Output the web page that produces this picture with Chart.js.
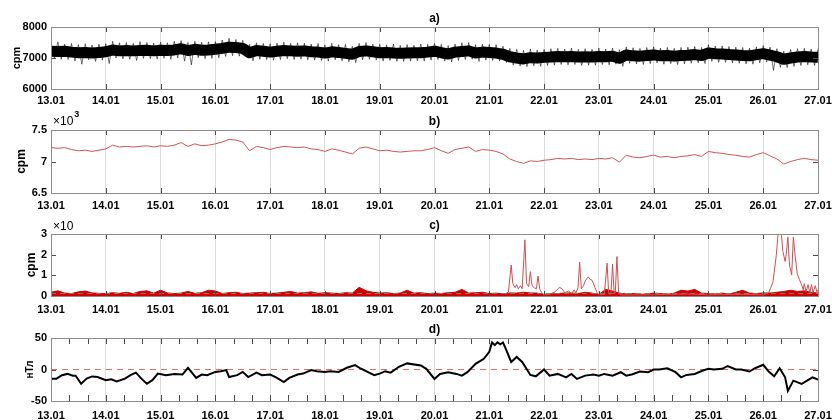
<!DOCTYPE html>
<html><head><meta charset="utf-8">
<script src="https://cdn.jsdelivr.net/npm/chart.js@4.4.1/dist/chart.umd.min.js"></script>
<style>
html,body{margin:0;padding:0;background:#fff;}
#wrap{position:relative;width:832px;height:420px;overflow:hidden;}
canvas{position:absolute;left:0;}
</style></head><body>
<div id="wrap">
<canvas id="pa" width="832" height="105" style="top:0px"></canvas>
<canvas id="pb" width="832" height="105" style="top:105px"></canvas>
<canvas id="pc" width="832" height="105" style="top:210px"></canvas>
<canvas id="pd" width="832" height="105" style="top:315px"></canvas>
</div>
<script>
// ---------- DATA ----------
const START_DAY = 13;
const SAMPLES_PER_DAY = 8;
const xTickLabels = ['13.01','14.01','15.01','16.01','17.01','18.01','19.01','20.01','21.01','22.01','23.01','24.01','25.01','26.01','27.01'];
const aYTicks = [6000, 7000, 8000];
const bYTicks = [6.5, 7, 7.5];
const cYTicks = [0, 1, 2, 3];
const dYTicks = [-50, 0, 50];

// a) raw count rate: upper / lower excursions of the noisy record (cpm), 8 samples per day
const aUpper = [7480,7520,7450,7470,7430,7460,7420,7450,
 7460,7540,7490,7500,7470,7530,7500,7480,
 7510,7490,7540,7560,7500,7540,7510,7520,
 7530,7580,7640,7600,7570,7440,7490,7470,
 7460,7480,7510,7470,7490,7480,7450,7470,
 7420,7470,7430,7440,7380,7470,7500,7450,
 7440,7420,7450,7410,7430,7410,7450,7440,
 7470,7440,7400,7450,7490,7500,7430,7450,
 7440,7430,7380,7310,7280,7250,7290,7260,
 7280,7300,7310,7290,7320,7280,7300,7280,
 7320,7290,7320,7270,7360,7330,7310,7340,
 7360,7320,7340,7310,7340,7350,7370,7340,
 7430,7390,7390,7370,7350,7340,7320,7360,
 7400,7350,7300,7220,7280,7300,7310,7290,
 7300];
const aLower = [6980,6960,6950,6900,6800,6940,6890,6930,
 6820,7000,6970,6960,6920,6990,6980,6970,
 6990,6960,7000,6900,6780,7010,6980,6990,
 7010,7050,7080,7060,7040,6910,6960,6950,
 6930,6950,6980,6950,6960,6940,6930,6920,
 6900,6940,6910,6880,6850,6940,6960,6930,
 6900,6920,6890,6890,6900,6910,6900,6930,
 6950,6900,6870,6920,6950,6960,6890,6930,
 6920,6900,6850,6770,6740,6720,6750,6730,
 6760,6770,6790,6780,6790,6760,6770,6770,
 6790,6780,6800,6730,6830,6810,6790,6820,
 6840,6800,6820,6790,6810,6830,6840,6820,
 6890,6860,6860,6840,6830,6810,6800,6840,
 6870,6600,6700,6690,6730,6760,6780,6760,
 6760];

// b) smoothed count rate (x10^3 cpm), 8 samples per day
const bMean = [7.22,7.21,7.22,7.19,7.17,7.18,7.16,7.18,
 7.20,7.26,7.23,7.24,7.23,7.24,7.25,7.23,
 7.25,7.24,7.26,7.30,7.24,7.28,7.25,7.26,
 7.28,7.31,7.35,7.34,7.31,7.17,7.24,7.22,
 7.19,7.22,7.24,7.23,7.22,7.23,7.20,7.19,
 7.16,7.20,7.18,7.15,7.12,7.21,7.23,7.20,
 7.17,7.18,7.16,7.15,7.16,7.17,7.17,7.19,
 7.22,7.17,7.13,7.19,7.21,7.23,7.16,7.19,
 7.18,7.16,7.12,7.04,7.00,6.97,7.01,7.00,
 7.02,7.03,7.05,7.04,7.05,7.03,7.04,7.03,
 7.05,7.04,7.06,6.99,7.10,7.07,7.06,7.08,
 7.10,7.07,7.08,7.06,7.08,7.09,7.11,7.08,
 7.16,7.14,7.13,7.11,7.10,7.08,7.07,7.11,
 7.14,7.09,7.04,6.96,7.00,7.03,7.05,7.03,
 7.02];

// c) excess count rate (x10 cpm): background level (filled), 8 samples per day
const cBase = [0.18,0.25,0.14,0.12,0.20,0.24,0.15,0.13,
 0.12,0.16,0.13,0.18,0.12,0.22,0.25,0.14,
 0.28,0.15,0.12,0.14,0.22,0.13,0.16,0.28,
 0.24,0.12,0.16,0.18,0.12,0.14,0.16,0.18,
 0.12,0.14,0.18,0.22,0.14,0.16,0.20,0.13,
 0.16,0.14,0.12,0.16,0.14,0.42,0.25,0.18,
 0.14,0.16,0.12,0.14,0.28,0.14,0.16,0.12,
 0.14,0.12,0.16,0.18,0.32,0.14,0.16,0.18,
 0.12,0.14,0.10,0.15,0.14,0.18,0.15,0.14,
 0.08,0.10,0.12,0.14,0.15,0.12,0.18,0.14,
 0.08,0.32,0.24,0.14,0.10,0.12,0.08,0.10,
 0.14,0.12,0.08,0.14,0.28,0.24,0.32,0.14,
 0.12,0.10,0.14,0.09,0.18,0.28,0.14,0.12,
 0.15,0.14,0.18,0.22,0.28,0.22,0.25,0.18,
 0.14];
// c) bursts (x10 cpm)
const cSpikeDays = [21.30,21.35,21.40,21.43,21.47,21.50,21.53,21.57,21.60,21.65,21.68,21.72,21.75,21.78,21.82,21.86,21.89,21.92,21.96,22.00,
 22.10,22.20,22.28,22.33,22.38,22.45,22.50,22.55,22.58,22.62,22.65,22.68,22.72,22.75,22.78,22.81,22.84,22.87,22.90,22.93,22.97,23.00,
 23.10,23.15,23.18,23.22,23.25,23.28,23.30,23.33,23.36,23.40,23.50,24.00,24.60,25.00,25.50,26.00,
 26.10,26.18,26.24,26.28,26.32,26.36,26.40,26.42,26.45,26.48,26.52,26.55,26.58,26.62,26.66,26.70,26.73,26.75,26.78,26.82,26.85,26.88,26.91,26.95,26.98,27.00];
const cSpikeVals = [0.10,0.20,1.50,0.60,0.40,0.55,0.35,0.50,0.35,2.72,0.60,0.45,1.18,0.50,0.40,0.35,0.97,0.35,0.15,0.05,
 0.08,0.20,0.42,0.35,0.15,0.25,0.10,0.30,0.15,0.40,1.64,0.35,0.50,0.72,0.85,0.92,0.80,0.78,0.62,0.40,0.15,0.05,
 0.08,1.59,0.10,0.10,1.54,0.10,0.15,1.91,0.20,0.05,0.05,0.06,0.10,0.06,0.08,0.06,
 0.15,0.70,2.00,3.30,3.30,2.15,1.67,2.00,2.85,1.50,1.02,2.85,2.00,1.10,0.80,0.55,0.30,0.60,0.20,0.55,0.15,0.55,0.15,0.50,0.20,0.30];
const cThreshold = 0.12;

// d) magnetic field variation (nT)
const dDays = [13.0,13.1,13.2,13.3,13.4,13.45,13.55,13.65,13.75,13.85,
 14.0,14.1,14.2,14.35,14.45,14.55,14.65,14.75,14.85,14.95,
 15.1,15.25,15.4,15.5,15.55,15.65,15.75,15.85,
 16.0,16.1,16.2,16.25,16.4,16.5,16.6,16.75,16.85,
 17.0,17.1,17.25,17.35,17.5,17.6,17.75,17.85,
 18.0,18.1,18.25,18.4,18.55,18.65,18.75,18.9,
 19.0,19.1,19.2,19.35,19.5,19.75,19.85,
 20.0,20.1,20.25,20.4,20.5,20.6,20.75,20.9,
 21.0,21.05,21.1,21.15,21.2,21.25,21.3,21.4,21.5,21.6,21.75,21.85,
 22.0,22.1,22.25,22.4,22.5,22.6,22.75,22.9,
 23.0,23.1,23.25,23.4,23.5,23.6,23.75,23.9,
 24.0,24.1,24.25,24.4,24.5,24.6,24.75,24.9,
 25.0,25.1,25.25,25.35,25.5,25.6,25.75,25.85,
 26.0,26.1,26.2,26.3,26.4,26.45,26.55,26.7,26.8,26.9,
 27.0];
const dVals = [-14.5,-14.5,-9,-7,-10,-10,-22.6,-14.5,-11,-12,
 -17,-15.6,-19,-14.5,-9,-5,-14.5,-22.6,-17,-6.5,
 -9,-7,-8,2.7,-2.7,-13.4,-8,-9,
 -3.8,-2.7,-1,-12,-9,-3.8,-12,-5,-9,
 -8,-12,-20,-13.4,-8,-6.5,-1,-2.7,
 -3.8,-2.7,-3.8,2.7,7,1.6,-2.7,-9,
 -6.5,-2.7,-5,4.3,9.7,6.5,1,
 -15,-7,-4.3,-7,-9.7,-4.3,9,17,
 28,43,38.7,43,40,43,33,12,20,12,-8.6,-10.8,
 0,-9.7,-7,-12.4,-7,-15,-9.7,-8,
 -9.7,-7,-9.7,-4.3,-9.7,-8,-3.2,-4.3,
 0,0,2,-4.3,-12.4,-8.6,-7,-1.6,
 1,0,1,5.4,0,0,-3.2,2,
 7.5,-3.2,-10.8,2,-12.4,-34,-17.7,-23,-17.7,-12.4,
 -16];
const dZero = 0;

// ---------- HELPERS ----------
const FONT = '"Liberation Sans", Arial, Helvetica, sans-serif';
const dayAt = i => START_DAY + i / SAMPLES_PER_DAY;
const sampled = (arr, k = 1) => arr.map((v, i) => ({x: dayAt(i), y: v * k}));
const paired = (xs, ys) => xs.map((x, i) => ({x, y: ys[i]}));
const flat = v => [{x: START_DAY, y: v}, {x: START_DAY + xTickLabels.length - 1, y: v}];
// alternate the upper and lower excursions of each sample -> noisy trace
const excursions = (hi, lo) => {
  const out = [];
  hi.forEach((v, i) => {
    out.push({x: dayAt(i), y: v});
    out.push({x: dayAt(i) + 0.5 / SAMPLES_PER_DAY, y: lo[i]});
  });
  return out;
};

const decor = {
  id: 'decor',
  afterDraw(chart, args, o) {
    const {ctx, chartArea: a, scales: {x, y}} = chart;
    ctx.save();
    ctx.strokeStyle = '#4a4a4a';
    ctx.lineWidth = 1;
    ctx.beginPath();
    const n = Math.round((x.max - x.min) / o.xStep);
    for (let k = 0; k <= n; k++) {
      const px = Math.round(x.getPixelForValue(x.min + k * o.xStep)) + 0.5;
      ctx.moveTo(px, a.top); ctx.lineTo(px, a.top + o.tickLen);
      ctx.moveTo(px, a.bottom); ctx.lineTo(px, a.bottom - o.tickLen);
    }
    y.ticks.forEach(t => {
      const py = Math.round(y.getPixelForValue(t.value)) + 0.5;
      ctx.moveTo(a.left, py); ctx.lineTo(a.left + 5, py);
      ctx.moveTo(a.right, py); ctx.lineTo(a.right - 5, py);
    });
    ctx.stroke();
    ctx.strokeStyle = '#8c8c8c';
    ctx.strokeRect(Math.round(a.left) + 0.5, Math.round(a.top) + 0.5, Math.round(a.right - a.left), Math.round(a.bottom - a.top));
    ctx.fillStyle = '#000';
    ctx.textAlign = 'center';
    ctx.textBaseline = 'middle';
    ctx.font = 'bold 12px ' + FONT;
    ctx.fillText(o.title, (a.left + a.right) / 2, o.titleY);
    if (o.mult) {
      ctx.textAlign = 'left';
      ctx.font = '12px ' + FONT;
      ctx.fillText(o.mult, a.left + 2, o.multY);
      if (o.exp) {
        const w = ctx.measureText(o.mult).width;
        ctx.font = 'bold 9px ' + FONT;
        ctx.fillText(o.exp, a.left + 3 + w, o.multY - 7);
      }
    }
    ctx.restore();
  }
};

function panel(id, p) {
  return new Chart(document.getElementById(id), {
    type: 'line',
    data: {datasets: p.datasets},
    options: {
      responsive: false,
      animation: false,
      layout: {padding: {top: p.padTop, right: 14, left: 0, bottom: 0}},
      elements: {point: {radius: 0}, line: {tension: 0}},
      plugins: {
        legend: {display: false},
        tooltip: {enabled: false},
        decor: p.decor
      },
      scales: {
        x: {
          type: 'linear', min: START_DAY, max: START_DAY + xTickLabels.length - 1,
          ticks: {stepSize: 1, autoSkip: false, maxRotation: 0, padding: p.xPad, color: '#000',
            font: {family: FONT, size: 11, weight: 'bold'},
            callback: v => xTickLabels[Math.round(v - START_DAY)]},
          grid: {color: '#dcdcdc', drawTicks: false, lineWidth: 1},
          border: {display: false},
          afterFit: s => { s.height = p.xh; s.paddingLeft = 0; s.paddingRight = 0; }
        },
        y: {
          min: p.yTicks[0], max: p.yTicks[p.yTicks.length - 1],
          afterBuildTicks: s => { s.ticks = p.yTicks.map(v => ({value: v})); },
          ticks: {padding: 4, color: '#000', font: {family: FONT, size: 11, weight: 'bold'},
            callback: v => String(v)},
          grid: {display: false, drawTicks: false},
          border: {display: false},
          title: {display: true, text: p.yTitle, color: '#000',
            font: {family: FONT, size: p.yTitleSize, weight: 'bold'},
            padding: {top: p.yTitlePad, bottom: 0}},
          afterFit: s => { s.width = 51; s.paddingTop = 0; s.paddingBottom = 0; }
        }
      }
    },
    plugins: [decor]
  });
}

panel('pa', {
  padTop: 27, xh: 16, xPad: 5, yTicks: aYTicks, yTitle: 'cpm', yTitleSize: 11, yTitlePad: 10,
  decor: {title: 'a)', titleY: 19, xStep: 1, tickLen: 5},
  datasets: [
    {data: sampled(bMean, 1000), borderColor: '#000', borderWidth: 11, fill: false, borderJoinStyle: 'round'},
    {data: excursions(aUpper, aLower), borderColor: 'rgba(0,0,0,0.55)', borderWidth: 1, fill: false}
  ]
});

panel('pb', {
  padTop: 25, xh: 17, xPad: 6, yTicks: bYTicks, yTitle: 'cpm', yTitleSize: 12, yTitlePad: 14,
  decor: {title: 'b)', titleY: 17, xStep: 1, tickLen: 5, mult: '\u00d710', exp: '3', multY: 17},
  datasets: [
    {data: sampled(bMean), borderColor: 'rgb(205,85,85)', borderWidth: 1, fill: false}
  ]
});

panel('pc', {
  padTop: 24, xh: 19, xPad: 7, yTicks: cYTicks, yTitle: 'cpm', yTitleSize: 12, yTitlePad: 24,
  decor: {title: 'c)', titleY: 16, xStep: 1, tickLen: 5, mult: '\u00d710', multY: 17},
  datasets: [
    {data: flat(cThreshold), borderColor: '#7a7a7a', borderWidth: 1, borderDash: [5, 4], fill: false},
    {data: paired(cSpikeDays, cSpikeVals), borderColor: 'rgb(205,80,80)', borderWidth: 1, fill: false},
    {data: sampled(cBase), borderColor: '#d40000', borderWidth: 1, backgroundColor: '#d40000', fill: 'origin'}
  ]
});

panel('pd', {
  padTop: 23, xh: 19, xPad: 8, yTicks: dYTicks, yTitle: 'нТл', yTitleSize: 10, yTitlePad: 24,
  decor: {title: 'd)', titleY: 15, xStep: 1 / 3, tickLen: 6},
  datasets: [
    {data: paired(dDays, dVals), borderColor: '#000', borderWidth: 2, fill: false},
    {data: flat(dZero), borderColor: 'rgb(225,110,110)', borderWidth: 1, borderDash: [6, 5], fill: false}
  ]
});
</script>
</body></html>
